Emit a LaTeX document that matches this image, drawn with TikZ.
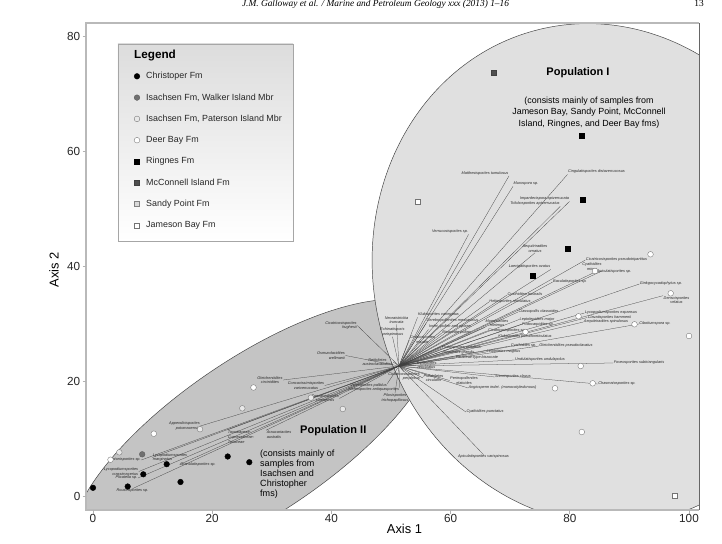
\documentclass[tikz,border=0pt]{standalone}
\usepackage{fontspec}
\setmainfont{Liberation Sans}
\newfontfamily\hdrfont{Liberation Serif}
\begin{document}
\begin{tikzpicture}[x=0.03cm,y=-0.03cm,
	vec/.style={black!75,line width=0.22pt},
	spc/.style={font=\fontsize{3.3}{4.0}\selectfont\itshape,inner sep=0.3pt,text=black!85},
	chr/.style={circle,fill=black,draw=black,line width=0.3pt,inner sep=0pt,minimum size=0.17cm},
	wlk/.style={chr,fill=black!56,draw=black!65},
	pat/.style={chr,fill=gray!18,draw=black!55},
	der/.style={chr,fill=white,draw=black!55},
	rng/.style={rectangle,fill=black,draw=black,line width=0.3pt,inner sep=0pt,minimum size=0.15cm},
	mcc/.style={rng,fill=black!69,draw=black!75},
	sdy/.style={rng,fill=gray!30,draw=black!50},
	jam/.style={rng,fill=white,draw=black!55},
	pop/.style={draw=black!75,line width=0.4pt},
	tick/.style={font=\fontsize{10}{12}\selectfont,text=black!85,inner sep=0pt}]

	\useasboundingbox (0,0) rectangle (722,544);

	\node[font=\hdrfont\itshape\fontsize{8}{9}\selectfont,anchor=base] (hdr) at (375.5,6.5) {J.M. Galloway et al. / Marine and Petroleum Geology xxx (2013) 1–16};
	\node[font=\hdrfont\fontsize{8}{9}\selectfont,anchor=base] (pg) at (699,6.5) {13};

	\begin{scope}
		\clip (86,23) rectangle (699,510);
		\filldraw[pop,fill=gray!46,rotate around={34:(255,436)}] (255,436) ellipse [x radius=6.45cm,y radius=2.34cm];
		\filldraw[pop,fill=gray!24,rotate around={15:(600,274)}] (600,274) ellipse [x radius=6.78cm,y radius=7.56cm];
	\end{scope}

	\node[draw=gray!70,line width=0.5pt,top color=gray!27,bottom color=white,minimum width=5.25cm,minimum height=5.91cm,inner sep=0pt] (leg) at (205.5,142.5) {};
	\node[anchor=west,font=\bfseries\fontsize{10}{12}\selectfont,inner sep=0pt] (legt) at (134,56) {Legend};
	\foreach \st/\txt [count=\i] in {chr/Christoper Fm, wlk/{Isachsen Fm, Walker Island Mbr}, pat/{Isachsen Fm, Paterson Island Mbr}, der/Deer Bay Fm, rng/Ringnes Fm, mcc/McConnell Island Fm, sdy/Sandy Point Fm, jam/Jameson Bay Fm} {
		\node[\st] (lm\i) at (137,{76.3+21.3*(\i-1)}) {};
		\node[anchor=west,font=\fontsize{7.6}{9}\selectfont,text=black!85,inner sep=0pt] (lt\i) at (146,{76.3+21.3*(\i-1)}) {\txt};
	}

	\node[font=\bfseries\fontsize{9.4}{11}\selectfont] (p1) at (578,73) {Population I};
	\node[align=center,font=\fontsize{7.6}{9.8}\selectfont,anchor=north,inner sep=0pt] (p1c) at (589,96.5) {(consists mainly of samples from\\Jameson Bay, Sandy Point, McConnell\\Island, Ringnes, and Deer Bay fms)};
	\node[font=\bfseries\fontsize{9.4}{11}\selectfont,anchor=west,inner sep=0pt] (p2) at (300,430.3) {Population II};
	\node[align=left,font=\fontsize{7.7}{8.5}\selectfont,anchor=north west,inner sep=0pt] (p2c) at (260,450) {(consists mainly of\\samples from\\Isachsen and\\Christopher\\fms)};

	\node[spc] (s1) at (485,173.5) {Matthesisporites tumulosus};
	\node[spc] (s2) at (526,184) {Murospora sp.};
	\node[spc] (s3) at (544.5,199) {Impardecispora apiverrucata};
	\node[spc] (s4) at (535,204) {Trilobosporites apiverrucatus};
	\node[spc] (s5) at (596.5,172) {Cingulatisporites distaverrucosus};
	\node[spc] (s6) at (450,232) {Verrucosisporites sp.};
	\node[spc,align=center] (s7) at (535,248.5) {Aequitriradites\\ornatus};
	\node[spc] (s8) at (529.5,267) {Laevigatisporites ovatus};
	\node[spc] (s9) at (616.5,260) {Cicatricosisporites pseudotripartitus};
	\node[spc,align=center] (s10) at (592,266.5) {Cyathidites\\minor};
	\node[spc] (s11) at (614,271.5) {Apiculatisporites sp.};
	\node[spc] (s12) at (570,282) {Baculatisporites sp.};
	\node[spc] (s13) at (661,284) {Ginkgocycadophytus sp.};
	\node[spc,align=center] (s14) at (676.5,300) {Densoisporites\\velatus};
	\node[spc] (s15) at (525,295) {Cyathidites australis};
	\node[spc] (s16) at (510,302) {Heliosporites reticulatus};
	\node[spc] (s17) at (538.5,312) {Classopollis classoides};
	\node[spc] (s18) at (611,313) {Lycopodiumsporites expansus};
	\node[spc] (s19) at (609.5,317.5) {Clavatisporites hammenii};
	\node[spc] (s20) at (606,322) {Aequitriradites spinulosus};
	\node[spc] (s21) at (655,324) {Cibotiumspora sp.};
	\node[spc] (s22) at (537,319.5) {Leptolepidites major};
	\node[spc] (s23) at (538,324.5) {Podocarpidites sp.};
	\node[spc,align=center] (s24) at (497,323) {Monosulcites\\minimus};
	\node[spc] (s25) at (507,330.8) {Cicatricosisporites sp.};
	\node[spc] (s26) at (525,337) {Klukisporites pseudoreticulatus};
	\node[spc] (s27) at (523.5,346) {Cyathidites sp.};
	\node[spc] (s28) at (566,346) {Gleicheniidites pseudoclavatus};
	\node[spc] (s29) at (503.5,352) {Leiotriletes magnus};
	\node[spc] (s30) at (477,358) {Pinaceae-type bisaccate};
	\node[spc] (s31) at (540,360) {Undulatisporites undulapolus};
	\node[spc] (s32) at (639,363) {Foveosporites subtriangularis};
	\node[spc] (s33) at (617,384) {Chasmatosporites sp.};
	\node[spc] (s34) at (513,377) {Stereisporites clavus};
	\node[spc] (s35) at (502.5,388) {Angiosperm indet. (monocotyledonous)};
	\node[spc,align=center] (s36) at (464,380.5) {Perinopollenites\\elatoides};
	\node[spc,align=center] (s37) at (433.5,378) {Psilatriletes\\circularis};
	\node[spc,align=right] (s38) at (404,376.5) {Cicatricosisporites\\perplexus};
	\node[spc,align=center] (s39) at (395,398) {Pilosisporites\\trichopapillosus};
	\node[spc] (s40) at (373.5,390) {Stereisporites antiquasporites};
	\node[spc] (s41) at (368.5,386) {Vitreisporites pallidus};
	\node[spc,align=center] (s42) at (325,398.5) {Concavisporites\\jurienensis};
	\node[spc,align=center] (s43) at (270,380) {Gleicheniidites\\circinidites};
	\node[spc,align=center] (s44) at (306,385.5) {Concavissimisporites\\variverrucatus};
	\node[spc,align=right] (s45) at (341,325.5) {Cicatricosisporites\\hughesii};
	\node[spc,align=right] (s46) at (331,355.5) {Osmundacidites\\wellmanii};
	\node[spc,align=center] (s47) at (377.5,362) {Retitriletes\\austroclavatidites};
	\node[spc,align=center] (s48) at (396.5,320) {Neoraistrickia\\truncata};
	\node[spc,align=center] (s49) at (392.5,332) {Echinatisporis\\varispinosus};
	\node[spc] (s50) at (438.5,315) {Klukisporites variegatus};
	\node[spc] (s51) at (452.5,321) {Cerebropollenites mesozoicus};
	\node[spc] (s52) at (450,327) {Indet. pollen and spores};
	\node[spc] (s53) at (456.5,333) {Bisaccate pollen};
	\node[spc,align=center] (s54) at (422.5,340) {Ceratosporites\\equalis};
	\node[spc,align=center] (s55) at (426.5,365) {Triporoletes\\reticulatus};
	\node[spc] (s56) at (485,412) {Cyathidites punctatus};
	\node[spc] (s57) at (483.5,457) {Apiculatisporites varispinosus};
	\node[spc] (s58) at (458.5,353) {Alisporites grandis};
	\node[spc] (s59) at (461.5,348) {Podosporites variabilis};
	\node[spc,align=right] (s61) at (184.5,426) {Appendicisporites\\potomacensis};
	\node[spc,align=left,font=\fontsize{3.3}{4.3}\selectfont\itshape] (s62) at (241,437) {Taxodiaceae-\\Cupressaceae-\\Taxaceae};
	\node[spc,align=left] (s63) at (279,434.5) {Araucariacites\\australis};
	\node[spc,align=left] (s64) at (170,457.5) {Lycopodiumsporites\\marginatus};
	\node[spc] (s65) at (125,460) {Matonisporites sp.};
	\node[spc,align=right] (s66) at (121,471.5) {Lycopodiumsporites\\crassimacerius};
	\node[spc] (s67) at (126.5,478) {Plicatella sp.};
	\node[spc] (s68) at (198,464.5) {Granulatisporites sp.};
	\node[spc] (s69) at (132.5,491) {Rouseisporites sp.};

	\coordinate (pv) at (399,366);
	\foreach \n/\a in {s1/south east, s2/south west, s3/south east, s4/south east, s5/south west, s6/south east, s7/south, s8/south east, s9/west, s10/south east, s11/west, s12/west, s13/west, s14/north west, s15/west, s16/west, s17/west, s18/west, s19/west, s20/west, s21/west, s22/west, s23/west, s24/south west, s25/west, s26/west, s27/west, s28/west, s29/west, s30/west, s31/west, s32/west, s33/west, s34/west, s35/west, s36/west, s37/west, s38/north, s39/north, s40/north east, s41/north east, s42/east, s43/east, s44/east, s45/east, s46/east, s47/east, s48/south, s49/south, s50/south west, s51/south west, s52/south west, s53/west, s54/west, s55/west, s56/west, s57/north, s58/west, s59/west, s61/east, s62/north west, s63/north west, s64/west, s65/east, s66/east, s67/east, s68/west, s69/north}
		\draw[vec] (pv) -- (\n.\a);

	\foreach \x/\y [count=\i] in {93/487.8, 127.7/486.5, 143.3/474.3, 166.7/464.2, 180.5/482, 227.7/456.5, 249.3/462.2}
		\node[chr] (ch\i) at (\x,\y) {};
	\node[wlk] (wk1) at (142.2,454.3) {};
	\foreach \x/\y [count=\i] in {119.3/452.3, 200/429.2, 242.3/408.3, 310.9/397.7, 342.8/409}
		\node[pat] (pt\i) at (\x,\y) {};
	\foreach \x/\y [count=\i] in {110.5/459.7, 153.8/433.7, 253.5/387.5, 650.5/254.3, 595/271, 670.7/293.3, 578.5/316.3, 634.5/324.3, 689/336, 525.5/332, 580.7/366, 592.7/383.3, 555/388.3, 581.8/432}
		\node[der] (db\i) at (\x,\y) {};
	\foreach \x/\y [count=\i] in {581.7/135.7, 583/199.3, 567.7/248.5, 532.5/275.3}
		\node[rng] (rg\i) at (\x,\y) {};
	\node[mcc] (mc1) at (493.3,72.7) {};
	\foreach \x/\y [count=\i] in {417.7/201.3, 675/495.3}
		\node[jam] (jb\i) at (\x,\y) {};

	\draw[gray!55,line width=1.4pt] (699,23) -- (86,23) -- (86,510) -- (699,510);
	\draw[black!60,line width=0.6pt] (699,23) -- (699,510);
	\foreach \v in {0,20,...,80} {
		\draw[gray!60,line width=0.6pt] (82.5,{496-5.75*\v}) -- (86,{496-5.75*\v});
		\node[tick,anchor=east] (yt\v) at (80.5,{496-5.75*\v}) {\v};
	}
	\foreach \v in {0,20,...,100} {
		\draw[gray!60,line width=0.6pt] ({93+5.96*\v},510) -- ({93+5.96*\v},513.5);
		\node[tick,anchor=north] (xt\v) at ({93+5.96*\v},514.5) {\v};
	}
	\node[font=\fontsize{11}{13}\selectfont] (ax1) at (404.5,528.7) {Axis 1};
	\node[font=\fontsize{11}{13}\selectfont,rotate=90] (ax2) at (54,269.5) {Axis 2};
\end{tikzpicture}
\end{document}
